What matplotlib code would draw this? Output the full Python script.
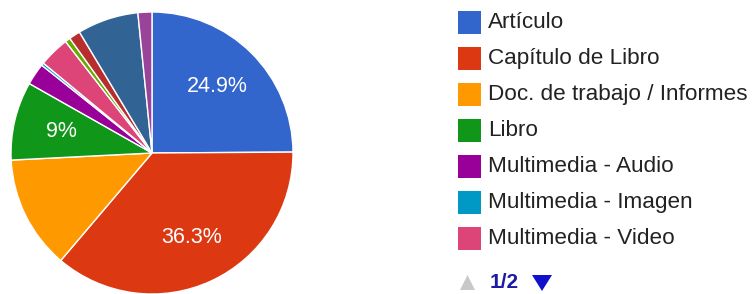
import matplotlib
matplotlib.use("Agg")
import matplotlib.pyplot as plt
from matplotlib.patches import Rectangle, Polygon
import numpy as np

plt.rcParams['font.family'] = ['Liberation Sans', 'DejaVu Sans']

# Data (slices clockwise from 12 o'clock); legend page 1 shows first 7
legend_labels = ["Artículo", "Capítulo de Libro", "Doc. de trabajo / Informes", "Libro",
                 "Multimedia - Audio", "Multimedia - Imagen", "Multimedia - Video"]
values = [24.9, 36.3, 13.0, 9.0, 2.5, 0.3, 3.5, 0.6, 1.3, 7.0, 1.6]
colors = ["#3366cc", "#dc3912", "#ff9900", "#109618", "#990099", "#0099c6",
          "#dd4477", "#66aa00", "#b82e2e", "#316395", "#994499"]
shown_pct = {0: "24.9%", 1: "36.3%", 3: "9%"}
page_text = "1/2"

W, H = 754, 294
fig = plt.figure(figsize=(W / 100, H / 100), dpi=100)

cx, cy, r = 152, 153, 141
ax = fig.add_axes([(cx - r) / W, (H - cy - r) / H, 2 * r / W, 2 * r / H])
wedges, _ = ax.pie(values, colors=colors, startangle=90, counterclock=False,
                   radius=1.0, wedgeprops=dict(edgecolor="white", linewidth=1.0))
ax.set_xlim(-1, 1)
ax.set_ylim(-1, 1)
ax.set_aspect("equal")
ax.axis("off")

for i, txt in shown_pct.items():
    w = wedges[i]
    th = np.deg2rad((w.theta1 + w.theta2) / 2)
    rr = 0.66
    ax.text(rr * np.cos(th), rr * np.sin(th), txt, color="white", fontsize=15.5,
            ha="center", va="center")

# Legend drawn manually
def fx(px):
    return px / W

def fy(py):
    return 1 - py / H

row0, step = 22.5, 36
for i, lab in enumerate(legend_labels):
    yc = row0 + i * step
    fig.patches.append(Rectangle((fx(458), fy(yc + 11.5)), 23 / W, 23 / H,
                                 transform=fig.transFigure, facecolor=colors[i],
                                 edgecolor="none"))
    fig.text(fx(488), fy(yc), lab, fontsize=16.2, color="#222222",
             ha="left", va="center")

# page navigation
yn = 283
fig.patches.append(Polygon([(fx(460), fy(yn + 7)), (fx(475), fy(yn + 7)), (fx(467.5), fy(yn - 8))],
                           closed=True, transform=fig.transFigure,
                           facecolor="#c8c8c8", edgecolor="none"))
fig.text(fx(490), fy(yn), page_text, fontsize=15, color="#1a1aa6", ha="left",
         va="center", fontweight="bold")
fig.patches.append(Polygon([(fx(532), fy(yn - 8)), (fx(552), fy(yn - 8)), (fx(542), fy(yn + 8))],
                           closed=True, transform=fig.transFigure,
                           facecolor="#1111cc", edgecolor="none"))

fig.savefig("out.png", dpi=100)
